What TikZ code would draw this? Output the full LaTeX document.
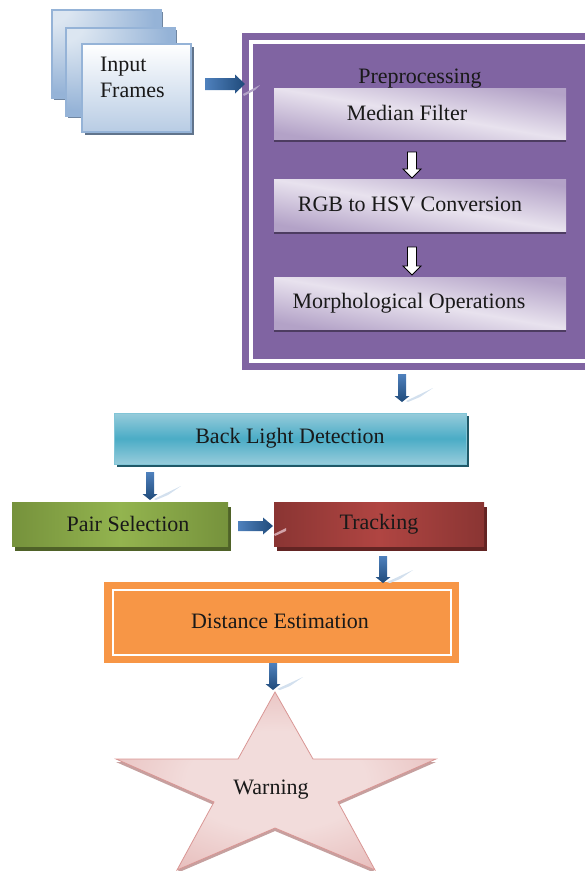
\documentclass[tikz,border=0pt]{standalone}
\usepackage{fontspec}
\setmainfont{Liberation Serif}
\usetikzlibrary{calc}
\definecolor{lav}{HTML}{E8E2EE}
\definecolor{lavd}{HTML}{B3A2C7}
\definecolor{purp}{HTML}{8064A2}
\definecolor{fr}{HTML}{95B3D7}
\definecolor{frl}{HTML}{DCE6F1}
\definecolor{frm}{HTML}{B8CCE4}
\definecolor{arrl}{HTML}{4F81BD}
\definecolor{arrd}{HTML}{1F4A7A}
\definecolor{refl}{HTML}{D3E0EE}
\definecolor{starc}{HTML}{F2DCDB}
\definecolor{stare}{HTML}{D99694}
\definecolor{tealm}{HTML}{4BACC6}
\definecolor{teall}{HTML}{97CCDB}
\definecolor{teald}{HTML}{205867}
\definecolor{greene}{HTML}{76923C}
\definecolor{greenm}{HTML}{93B44F}
\definecolor{greend}{HTML}{4F6228}
\definecolor{rede}{HTML}{8A3533}
\definecolor{redm}{HTML}{B04542}
\definecolor{redd}{HTML}{632423}
\definecolor{orng}{HTML}{F79646}
\pgfdeclareradialshading{tlglow}{\pgfpoint{-30bp}{30bp}}{color(0bp)=(frl);color(10bp)=(frl);color(40bp)=(fr);color(100bp)=(fr)}
\pgfdeclareradialshading{starglow}{\pgfpoint{0bp}{0bp}}{color(0bp)=(starc);color(14bp)=(starc);color(50bp)=(stare);color(100bp)=(stare)}
\tikzset{
  x=1pt,y=-1pt,
  every node/.style={font=\fontsize{22}{26}\selectfont,text=black!90,outer sep=0pt,inner sep=0pt},
  boxat/.style={anchor=north west},
  drop/.style n args={3}{preaction={fill=#1,transform canvas={xshift=#2pt,yshift=-#3pt}}},
  frameback/.style={boxat,draw=fr,line width=1.2pt,shading=tlglow,drop={black!25!fr}{2}{2},minimum width=109pt,minimum height=88pt},
  framefront/.style={boxat,draw=fr,line width=1.2pt,top color=white,bottom color=frm,drop={black!35!fr}{3}{3},minimum width=109pt,minimum height=88pt},
  lavbox/.style={boxat,minimum width=292pt,minimum height=52pt,top color=lavd,bottom color=lavd,middle color=lav,shading angle=-10,drop={purp!60!black}{0}{3}},
  tealbox/.style={boxat,draw=tealm!70!white,line width=.8pt,top color=#1,bottom color=#1,middle color=tealm,drop={teald}{3}{3}},
  greenbox/.style={boxat,left color=greene,right color=greene,middle color=greenm,drop={greend}{3}{5}},
  redbox/.style={boxat,left color=rede,right color=rede,middle color=redm,drop={redd}{3}{5}},
  blockarrow/.style n args={3}{to path={
    -- ($(\tikztostart)!#1pt!90:(\tikztotarget)$)
    -- ($(\tikztotarget)!#3pt!(\tikztostart)!#1pt!90:(\tikztotarget)$)
    -- ($(\tikztotarget)!#3pt!(\tikztostart)!#2pt!90:(\tikztotarget)$)
    -- (\tikztotarget)
    -- ($(\tikztotarget)!#3pt!(\tikztostart)!#2pt!-90:(\tikztotarget)$)
    -- ($(\tikztotarget)!#3pt!(\tikztostart)!#1pt!-90:(\tikztotarget)$)
    -- ($(\tikztostart)!#1pt!-90:(\tikztotarget)$)
    -- cycle}},
  downflow/.style={top color=arrl,bottom color=arrd},
  rightflow/.style={left color=arrl,right color=arrd},
  gleam/.style={fill=refl,draw=none},
}
\begin{document}
\begin{tikzpicture}
\useasboundingbox (0,0) rectangle (585,871);
% input frames
\node[frameback] (f1) at (52,10) {};
\node[frameback] (f2) at (66,28) {};
\node[framefront] (f3) at (82,44) {};
\node[anchor=north west,align=left,font=\fontsize{22}{26}\selectfont] (inp) at (100,57) {Input\\Frames};
% preprocessing
\begin{scope}
\clip (0,0) rectangle (585,871);
\node[boxat,fill=purp,minimum width=360pt,minimum height=337pt] (pre) at (242,33) {};
\node[boxat,draw=white,line width=3.4pt,minimum width=340pt,minimum height=319pt] (preline) at (251,42) {};
\end{scope}
\node (pret) at (420,79) {Preprocessing};
\node[lavbox,minimum height=51pt] (med) at (274,88) {\hspace*{-26pt}\raisebox{2pt}{Median Filter}};
\node[lavbox] (rgb) at (274,179) {\hspace*{-20pt}\raisebox{2pt}{RGB to HSV Conversion}};
\node[lavbox] (mor) at (274,277) {\hspace*{-22pt}\raisebox{2pt}{Morphological Operations}};
% lower boxes
\node[tealbox=teall,minimum width=352pt,minimum height=51pt] (bld) at (114,413) {Back Light Detection};
\node[greenbox,minimum width=216pt,minimum height=44pt] (pair) at (12,502) {\hspace*{16pt}\raisebox{1pt}{Pair Selection}};
\node[redbox,minimum width=210pt,minimum height=44pt] (trk) at (274,502) {Tracking};
\node[boxat,fill=orng,minimum width=355pt,minimum height=81pt] (dist) at (104,582) {};
\node[boxat,draw=white,line width=2.6pt,minimum width=338pt,minimum height=65pt] (distl) at (113,590) {};
\node (distt) at (280,621) {Distance Estimation};
% star
\path[fill=stare!80!black!70] (116,762) -- (238,762) -- (275,695) -- (313,762) -- (436,762) -- (338,805) -- (375,873) -- (275,831) -- (177,873) -- (214,805) -- cycle;
\path[draw=stare,line width=.8pt,shading=starglow] (116,759) -- (238,759) -- (275,692) -- (313,759) -- (436,759) -- (338,802) -- (375,870) -- (275,828) -- (177,870) -- (214,802) -- cycle;
\coordinate (sttop) at (275,692);
\node (warn) at (271,790) {Warning};
% reference columns
\coordinate (c1) at (402,0);
\coordinate (c2) at (150,0);
\coordinate (c3) at (383,0);
\coordinate (c4) at (273,0);
\coordinate (c5) at (412,0);
% gleams
\path[gleam] (406,401) -- (433,388) -- (420,397) -- (408,402) -- cycle;
\path[gleam] (154,499) -- (181,486) -- (168,495) -- (156,500) -- cycle;
\path[gleam] (387,582) -- (413,570) -- (400,579) -- (390,583) -- cycle;
\path[gleam] (277,689) -- (303,677) -- (290,686) -- (280,690) -- cycle;
\path[fill=lavd] (243,94) -- (260,85) -- (255,90) -- (244,96) -- cycle;
\path[fill=lav!60!redm] (274,534) -- (286,528) -- (286,531) -- (275,536) -- cycle;
% connectors
\path[downflow] ($(pre.south -| c1)+(0,4)$) to[blockarrow={4}{7.5}{6}] ($(bld.north -| c1)+(0,-11)$);
\path[downflow] ($(bld.south -| c2)+(0,8)$) to[blockarrow={4}{7.5}{6}] ($(pair.north -| c2)+(0,-2)$);
\path[downflow] ($(trk.south -| c3)+(0,10)$) to[blockarrow={4}{7.5}{6}] ($(dist.north -| c3)+(0,1)$);
\path[downflow] (dist.south -| c4) to[blockarrow={4}{7.5}{6}] ($(sttop -| c4)+(0,-2)$);
\path[rightflow] ($(f3.east |- 0,84)+(14,0)$) to[blockarrow={6}{9.5}{10}] ($(pre.west |- 0,84)+(3,0)$);
\path[rightflow] ($(pair.east)+(10,2)$) to[blockarrow={5}{8.5}{10}] ($(trk.west)+(-1,2)$);
\draw[fill=white,line width=.9pt] ($(med.south -| c5)+(0,13)$) to[blockarrow={4.5}{9}{9}] ($(rgb.north -| c5)+(0,-1)$);
\draw[fill=white,line width=.9pt] ($(rgb.south -| c5)+(0,16)$) to[blockarrow={4.5}{9}{9}] ($(mor.north -| c5)+(0,-2)$);
\end{tikzpicture}
\end{document}
